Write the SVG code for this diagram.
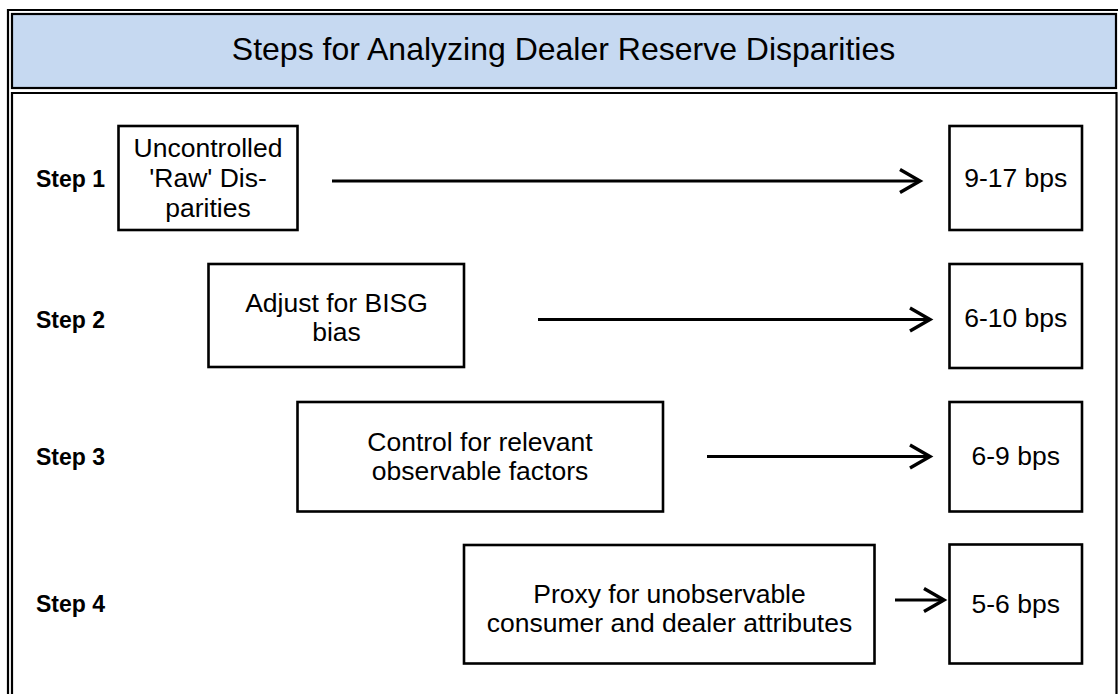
<svg xmlns="http://www.w3.org/2000/svg" width="1118" height="694" viewBox="0 0 1118 694">
<style>
.frame{fill:none;stroke:#000;stroke-width:2.2}
.box{fill:#fff;stroke:#000;stroke-width:2.6}
.t{font-family:"Liberation Sans",Arial,sans-serif;font-size:26.5px;fill:#000;text-anchor:middle}
.step{font-family:"Liberation Sans",Arial,sans-serif;font-size:23px;font-weight:bold;fill:#000}
.title{font-family:"Liberation Sans",Arial,sans-serif;font-size:32px;fill:#000;text-anchor:middle}
.arr{fill:none;stroke:#000;stroke-width:3.2}
</style>
<defs>
<marker id="chev" markerUnits="userSpaceOnUse" markerWidth="30" markerHeight="30" refX="22" refY="13" orient="auto" viewBox="0 0 30 26">
<path d="M2,1.5 L22,13 L2,24.5" fill="none" stroke="#000" stroke-width="3.4"/>
</marker>
</defs>
<rect width="1118" height="694" fill="#fff"/>
<g id="frame">
<path class="frame" d="M8,694 V10 H1118"/>
<rect x="12" y="14" width="1104" height="74" fill="#c6d9f1" stroke="#000" stroke-width="2.2"/>
<path class="frame" d="M12,700 V93 H1116.5 V700"/>
<text class="title" x="563.5" y="60">Steps for Analyzing Dealer Reserve Disparities</text>
</g>
<g id="labels">
<text class="step" x="36" y="187">Step 1</text>
<text class="step" x="36" y="328">Step 2</text>
<text class="step" x="36" y="465">Step 3</text>
<text class="step" x="36" y="612">Step 4</text>
</g>
<g id="node-step1">
<rect class="box" x="118.5" y="126" width="179" height="104"/>
<text class="t" x="208" y="157">Uncontrolled</text>
<text class="t" x="208" y="187">'Raw' Dis-</text>
<text class="t" x="208" y="217">parities</text>
</g>
<g id="node-step2">
<rect class="box" x="208.5" y="264" width="255.5" height="103"/>
<text class="t" x="336.5" y="311.5">Adjust for BISG</text>
<text class="t" x="336.5" y="340.5">bias</text>
</g>
<g id="node-step3">
<rect class="box" x="297.5" y="402" width="365.5" height="109.5"/>
<text class="t" x="480" y="450.5">Control for relevant</text>
<text class="t" x="480" y="480">observable factors</text>
</g>
<g id="node-step4">
<rect class="box" x="464" y="545" width="410.5" height="118.5"/>
<text class="t" x="669.5" y="603">Proxy for unobservable</text>
<text class="t" x="669.5" y="631.5">consumer and dealer attributes</text>
</g>
<g id="node-r1">
<rect class="box" x="949.5" y="126" width="132.5" height="104"/>
<text class="t" x="1015.75" y="187">9-17 bps</text>
</g>
<g id="node-r2">
<rect class="box" x="949.5" y="264" width="132.5" height="104"/>
<text class="t" x="1015.75" y="327">6-10 bps</text>
</g>
<g id="node-r3">
<rect class="box" x="949.5" y="402" width="132.5" height="109.5"/>
<text class="t" x="1015.75" y="465">6-9 bps</text>
</g>
<g id="node-r4">
<rect class="box" x="949.5" y="544.5" width="132.5" height="119"/>
<text class="t" x="1015.75" y="612.5">5-6 bps</text>
</g>
<g id="connectors">
<path class="arr" d="M332,181 H920" marker-end="url(#chev)"/>
<path class="arr" d="M538,319.5 H930" marker-end="url(#chev)"/>
<path class="arr" d="M707,456.5 H930" marker-end="url(#chev)"/>
<path class="arr" d="M895,600 H944" marker-end="url(#chev)"/>
</g>
</svg>
